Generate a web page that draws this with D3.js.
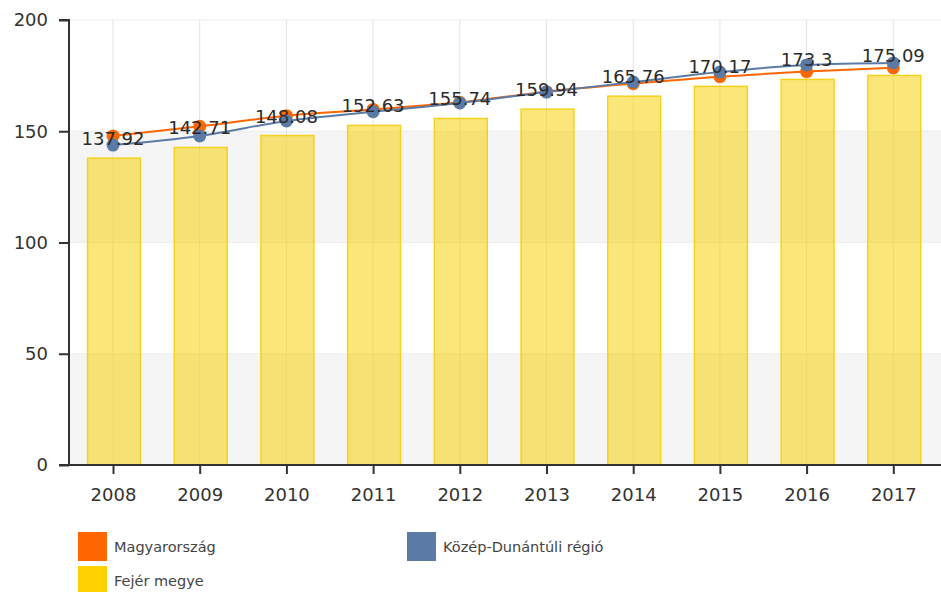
<!DOCTYPE html>
<html>
<head>
<meta charset="utf-8">
<script src="https://cdn.jsdelivr.net/npm/d3@7"></script>
<style>
  html, body { margin: 0; padding: 0; background: #fff; }
  svg { display: block; font-family: "DejaVu Sans", Verdana, sans-serif; }
</style>
</head>
<body>
<svg id="chart" width="941" height="592"></svg>
<script>
const years = ["2008","2009","2010","2011","2012","2013","2014","2015","2016","2017"];
const fejerValues = [137.92, 142.71, 148.08, 152.63, 155.74, 159.94, 165.76, 170.17, 173.3, 175.09];
const magyarValues = [147.9, 152.2, 157.0, 159.8, 163.0, 167.8, 171.4, 174.5, 176.8, 178.5];
const kozepValues = [143.8, 147.9, 154.6, 158.8, 162.7, 167.6, 172.1, 176.6, 179.8, 180.7];
const yTicks = [0, 50, 100, 150, 200];
const legendItems = [
  { name: "Magyarország", color: "#FF6600" },
  { name: "Közép-Dunántúli régió", color: "#5B7BA6" },
  { name: "Fejér megye", color: "#FFD100" }
];

const svg = d3.select("#chart");
const pLeft = 69, pRight = 941, pTop = 20, pBottom = 465;

const x = d3.scalePoint().domain(years).range([69.65, 936.65]).padding(0.5);
const step = x.step();
const y = d3.scaleLinear().domain([0, 200]).range([pBottom, pTop]);

// alternating bands
const bands = [[0, 50], [100, 150]];
svg.append("g").selectAll("rect").data(bands).join("rect")
  .attr("x", pLeft).attr("width", pRight - pLeft)
  .attr("y", d => y(d[1])).attr("height", d => y(d[0]) - y(d[1]))
  .attr("fill", "#f5f5f5");

// horizontal grid lines
svg.append("g").selectAll("line").data(yTicks).join("line")
  .attr("x1", pLeft).attr("x2", pRight)
  .attr("y1", d => y(d)).attr("y2", d => y(d))
  .attr("stroke", "#ececec").attr("stroke-width", 1);

// vertical grid lines
svg.append("g").selectAll("line").data(years).join("line")
  .attr("x1", d => x(d)).attr("x2", d => x(d))
  .attr("y1", pTop).attr("y2", pBottom)
  .attr("stroke", "#e3e3e3").attr("stroke-width", 1);

// bars
const barW = step * 0.61;
svg.append("g").selectAll("rect").data(years).join("rect")
  .attr("x", d => x(d) - barW / 2 + 1)
  .attr("width", barW)
  .attr("y", (d, i) => y(fejerValues[i]))
  .attr("height", (d, i) => pBottom - y(fejerValues[i]))
  .attr("fill", "rgba(247,208,0,0.52)")
  .attr("stroke", "#F6D21E").attr("stroke-width", 1.5);

// lines
function drawSeries(values, color) {
  const line = d3.line()
    .x((d, i) => x(years[i]))
    .y(d => y(d))
    .curve(d3.curveMonotoneX);
  svg.append("path").datum(values)
    .attr("d", line).attr("fill", "none")
    .attr("stroke", color).attr("stroke-width", 2);
  svg.append("g").selectAll("circle").data(values).join("circle")
    .attr("cx", (d, i) => x(years[i]))
    .attr("cy", d => y(d))
    .attr("r", 6.5)
    .attr("fill", color);
}
drawSeries(magyarValues, "#FF6600");
drawSeries(kozepValues, "#5B7BA6");

// data labels
svg.append("g").selectAll("text").data(years).join("text")
  .attr("x", d => x(d))
  .attr("y", (d, i) => y(fejerValues[i]) - 13)
  .attr("text-anchor", "middle")
  .attr("font-size", 18)
  .attr("fill", "#2b2b2b")
  .text((d, i) => fejerValues[i]);

// y axis
const yAxis = d3.axisLeft(y).tickValues(yTicks).tickSize(10).tickPadding(11);
const gy = svg.append("g").attr("transform", `translate(${pLeft},0)`).call(yAxis);
gy.select(".domain").attr("stroke", "#333").attr("stroke-width", 2).attr("d", `M-10,${pTop}H0V${pBottom}H-10`);
gy.selectAll(".tick line").attr("stroke", "#333").attr("stroke-width", 2);
gy.selectAll(".tick text").attr("font-size", 18).attr("fill", "#333")
  .attr("font-family", "DejaVu Sans, Verdana, sans-serif");

// x axis
const xAxis = d3.axisBottom(x).tickSize(9).tickPadding(14);
const gx = svg.append("g").attr("transform", `translate(0,${pBottom})`).call(xAxis);
gx.select(".domain").attr("stroke", "#333").attr("stroke-width", 2).attr("d", `M${pLeft},0H${pRight}`);
gx.selectAll(".tick line").attr("stroke", "#333").attr("stroke-width", 2);
gx.selectAll(".tick text").attr("font-size", 18).attr("fill", "#333")
  .attr("font-family", "DejaVu Sans, Verdana, sans-serif");

// legend
const legendPos = [[78, 532], [407, 532], [78, 566]];
const lg = svg.append("g").selectAll("g").data(legendItems).join("g")
  .attr("transform", (d, i) => `translate(${legendPos[i][0]},${legendPos[i][1]})`);
lg.append("rect").attr("width", 29).attr("height", 29).attr("fill", d => d.color);
lg.append("text").attr("x", 36).attr("y", 15).attr("dy", "0.35em")
  .attr("font-size", 14.5).attr("fill", "#444").text(d => d.name);
</script>
</body>
</html>
